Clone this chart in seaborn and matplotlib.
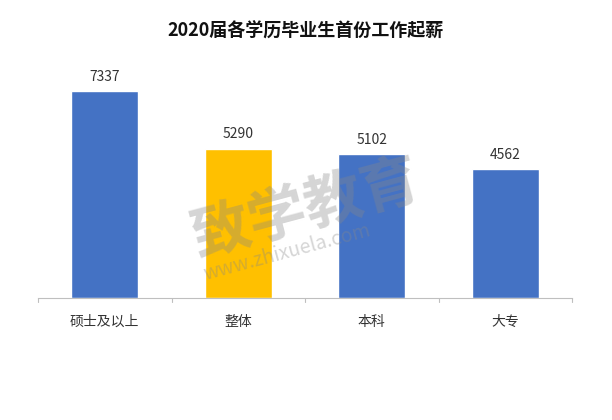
import matplotlib
matplotlib.use("Agg")
import matplotlib.pyplot as plt
import seaborn as sns
import pandas as pd

categories = ["硕士及以上", "整体", "本科", "大专"]
values = [7337, 5290, 5102, 4562]
colors = ["#4472C4", "#FFC000", "#4472C4", "#4472C4"]

sns.set_style("white")
plt.rcParams['font.family'] = ['Noto Sans CJK SC', 'DejaVu Sans']

fig = plt.figure(figsize=(6.12, 4.2), dpi=100)
ax = fig.add_axes([0.062, 0.29, 0.873, 0.539])
df = pd.DataFrame({"cat": categories, "val": values})
sns.barplot(data=df, x="cat", y="val", hue="cat", palette=colors, width=0.5,
            legend=False, ax=ax, saturation=1)
ax.set_ylim(0, 8000)
ax.set_xlim(-0.5, 3.5)
for i, v in enumerate(values):
    ax.text(i, v + 250, str(v), ha="center", va="bottom", fontsize=10, color="#333333")
for s in ["top", "right", "left"]:
    ax.spines[s].set_visible(False)
ax.spines["bottom"].set_color("#BFBFBF")
ax.set_yticks([])
ax.set_xlabel("")
ax.set_ylabel("")
ax.set_xticks([0, 1, 2, 3])
ax.set_xticklabels(categories, fontsize=10, color="#333333")
ax.tick_params(axis="x", length=0, pad=12)
for b in [-0.5, 0.5, 1.5, 2.5, 3.5]:
    ax.plot([b, b], [0, -150], color="#BFBFBF", lw=0.8, clip_on=False)
fig.text(0.5, 0.925, "2020届各学历毕业生首份工作起薪", ha="center", va="center",
         fontsize=13, fontweight="bold", color="#111111")
fig.text(0.5, 0.5, "致学教育", ha="center", va="center", fontsize=42, fontweight="bold",
         color="#888888", alpha=0.35, rotation=15)
fig.text(0.47, 0.4, "www.zhixuela.com", ha="center", va="center", fontsize=14,
         color="#888888", alpha=0.35, rotation=15)
fig.savefig("out.png", dpi=100)
